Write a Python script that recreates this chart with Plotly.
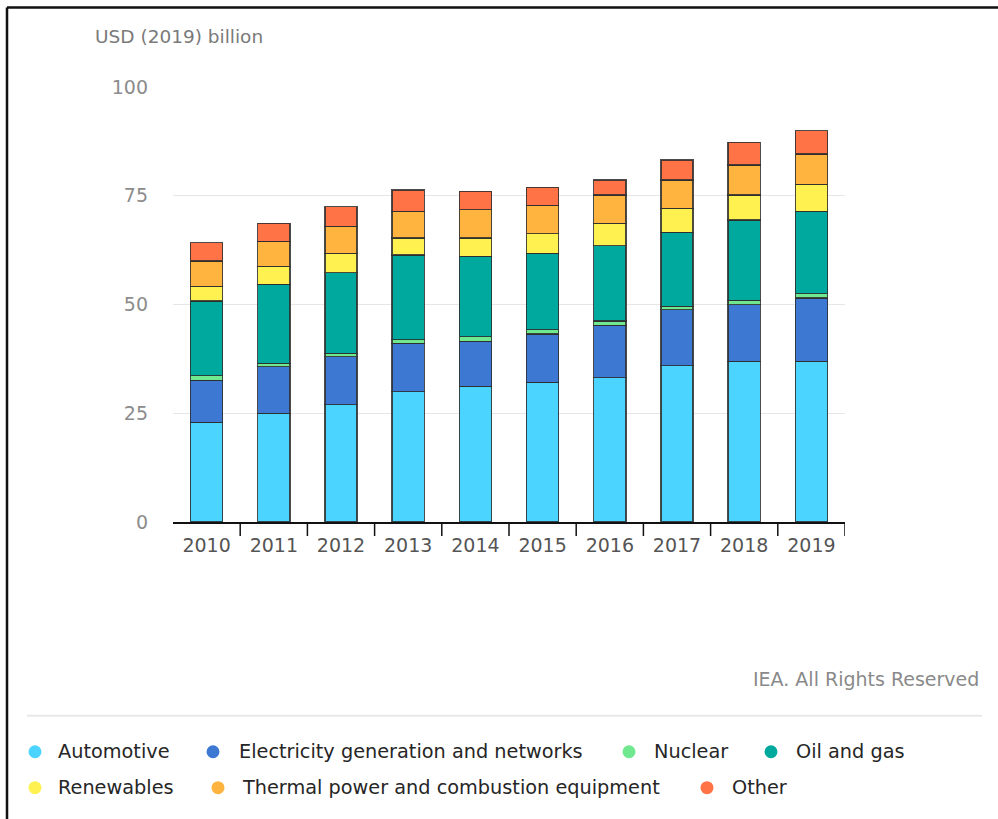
import plotly.graph_objects as go

# Investment by end-use sector, USD (2019) billion
years = ["2010", "2011", "2012", "2013", "2014", "2015", "2016", "2017", "2018", "2019"]

automotive = [22.9, 25.0, 27.0, 30.0, 31.2, 32.1, 33.2, 35.9, 36.9, 36.9]
electricity = [9.7, 10.7, 11.0, 11.1, 10.3, 11.1, 12.0, 12.9, 13.1, 14.6]
nuclear = [1.0, 0.8, 0.8, 0.8, 1.1, 1.0, 1.0, 0.8, 1.0, 1.0]
oil_and_gas = [17.2, 18.1, 18.5, 19.5, 18.5, 17.6, 17.3, 17.0, 18.4, 18.9]
renewables = [3.4, 4.2, 4.5, 3.9, 4.2, 4.5, 5.2, 5.5, 5.8, 6.2]
thermal = [5.8, 5.7, 6.2, 6.1, 6.5, 6.5, 6.5, 6.5, 6.9, 7.0]
other = [4.2, 4.2, 4.5, 4.9, 4.2, 4.1, 3.4, 4.6, 5.2, 5.4]

series_names = [
    "Automotive",
    "Electricity generation and networks",
    "Nuclear",
    "Oil and gas",
    "Renewables",
    "Thermal power and combustion equipment",
    "Other",
]
series_values = [automotive, electricity, nuclear, oil_and_gas, renewables, thermal, other]
series_colors = ["#4bd4ff", "#3d78d3", "#6fe88f", "#00a99d", "#fff150", "#ffb43f", "#ff7347"]

y_ticks = [0, 25, 50, 75, 100]

FONT = "DejaVu Sans"
W, H = 998, 819
PLOT_L, PLOT_R, PLOT_T, PLOT_B = 173, 845, 86.5, 522


def px_x(x):
    return (x - PLOT_L) / (PLOT_R - PLOT_L)


def px_y(y):
    return (PLOT_B - y) / (PLOT_B - PLOT_T)


fig = go.Figure()
for name, vals, color in zip(series_names, series_values, series_colors):
    fig.add_trace(go.Bar(
        x=years, y=vals, name=name,
        marker=dict(color=color, line=dict(color="rgba(45,45,45,0.85)", width=1.3)),
        showlegend=False,
    ))

shapes = []
annotations = []

# frame edges (left and top)
shapes.append(dict(type="line", xref="paper", yref="paper",
                   x0=px_x(7), x1=px_x(W + 5), y0=px_y(7), y1=px_y(7),
                   line=dict(color="#111111", width=2.5)))
shapes.append(dict(type="line", xref="paper", yref="paper",
                   x0=px_x(7), x1=px_x(7), y0=px_y(7), y1=px_y(H + 5),
                   line=dict(color="#111111", width=2.5)))

# category boundary ticks below the axis (none at the left end)
for i in range(len(years)):
    shapes.append(dict(type="line", xref="x", yref="paper",
                       x0=i + 0.5, x1=i + 0.5, y0=0, y1=px_y(PLOT_B + 14),
                       line=dict(color="#111111", width=1.5)))

# separator above the legend
shapes.append(dict(type="line", xref="paper", yref="paper",
                   x0=px_x(27), x1=px_x(982), y0=px_y(716), y1=px_y(716),
                   line=dict(color="#e8e8e8", width=2)))

# unit label
annotations.append(dict(text="USD (2019) billion", xref="paper", yref="paper",
                        x=px_x(93), y=px_y(36), xanchor="left", yanchor="middle",
                        showarrow=False, font=dict(family=FONT, size=18.5, color="#7a7a7a")))

# source note
annotations.append(dict(text="IEA. All Rights Reserved", xref="paper", yref="paper",
                        x=px_x(981), y=px_y(679), xanchor="right", yanchor="middle",
                        showarrow=False, font=dict(family=FONT, size=19, color="#8a8a8a")))

# legend drawn as dots plus labels
legend_pos = [
    (35, 56, 752), (213, 237, 752), (629, 652, 752), (771, 794, 752),
    (35, 56, 788), (218, 240, 788), (707, 730, 788),
]
r = 6.5
for (cx, tx, cy), name, color in zip(legend_pos, series_names, series_colors):
    shapes.append(dict(type="circle", xref="paper", yref="paper",
                       x0=px_x(cx - r), x1=px_x(cx + r), y0=px_y(cy + r), y1=px_y(cy - r),
                       fillcolor=color, line=dict(width=0)))
    annotations.append(dict(text=name, xref="paper", yref="paper",
                            x=px_x(tx), y=px_y(cy), xanchor="left", yanchor="middle",
                            showarrow=False, font=dict(family=FONT, size=19.3, color="#262626")))

fig.update_layout(
    width=W, height=H,
    barmode="stack", bargap=0.52,
    paper_bgcolor="white", plot_bgcolor="white",
    margin=dict(l=PLOT_L, r=W - PLOT_R, t=PLOT_T, b=H - PLOT_B, autoexpand=False),
    font=dict(family=FONT),
    shapes=shapes, annotations=annotations,
    xaxis=dict(
        type="category", range=[-0.5, 9.5],
        showline=True, linecolor="#111111", linewidth=1.5,
        ticks="", ticklabelstandoff=5,
        tickfont=dict(family=FONT, size=19, color="#555555"),
        showgrid=False,
    ),
    yaxis=dict(
        range=[0, 100], tickvals=y_ticks,
        showgrid=True, gridcolor="#e6e6e6", gridwidth=1,
        zeroline=False, showline=False,
        ticks="", ticklabelstandoff=24,
        tickfont=dict(family=FONT, size=19, color="#8c8c8c"),
    ),
)

fig.write_html("out.html")
